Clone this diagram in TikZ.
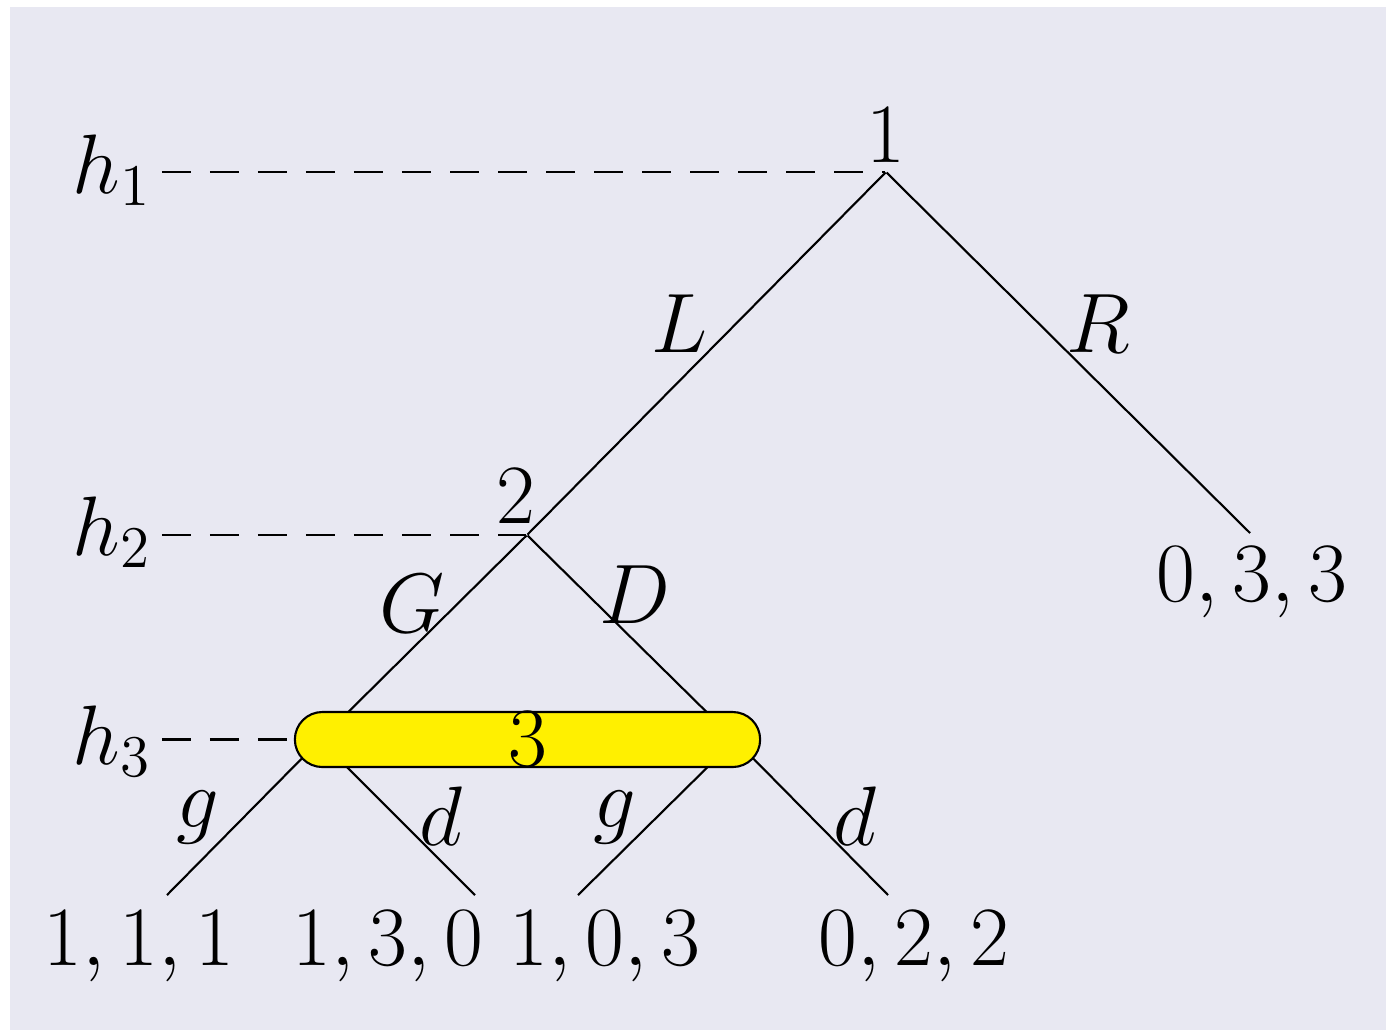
\RequirePackage{fix-cm}
\documentclass[tikz,border=0pt]{standalone}

\definecolor{bgcol}{RGB}{232,232,242}
\definecolor{infoyellow}{RGB}{255,240,0}

\begin{document}
\begin{tikzpicture}[
		x=0.01cm, y=-0.01cm,
		every node/.style = {font=\fontsize{24}{29}\selectfont},
		pt/.style   = {circle, inner sep=0, minimum size=0},
		lbl/.style  = {anchor=base, inner sep=0},
		hlbl/.style = {anchor=base, inner sep=0.1cm},
		info/.style = {rectangle, rounded corners=0.275cm, draw=black, fill=infoyellow, line width=0.6pt, minimum width=4.65cm, minimum height=0.55cm, inner sep=0},
		br/.style   = {line width=0.6pt},
		hl/.style   = {line width=0.6pt, dash pattern=on 0.29cm off 0.19cm}
		]
		
		%Background
		\fill[white] (0,0) rectangle (1386,1030);
		\fill[bgcol] (10,7) rectangle (1386,1030);
		
		%Nodes
		\node[pt]	(n1)	at (886,172)	{};
		\node[pt]	(n2)	at (527,535)	{};
		\node[pt]	(n3a)	at (320,740)	{};
		\node[pt]	(n3b)	at (735,740)	{};
		\coordinate	(tR)	at (1250,533);
		\coordinate	(t1)	at (167,895);
		\coordinate	(t2)	at (475,895);
		\coordinate	(t3)	at (578,895);
		\coordinate	(t4)	at (888,895);
		
		\node[lbl]	(p1)	at (886,162)	{$1$};
		\node[lbl]	(p2)	at (516,523)	{$2$};
		
		\node[hlbl]	(h1)	at (112,193)	{$h_1$};
		\node[hlbl]	(h2)	at (112,555)	{$h_2$};
		\node[hlbl]	(h3)	at (112,764)	{$h_3$};
		
		\node[lbl]	(oR)	at (1252,601)	{$0,3,3$};
		\node[lbl]	(o1)	at (139,965)	{$1,1,1$};
		\node[lbl]	(o2)	at (388,965)	{$1,3,0$};
		\node[lbl]	(o3)	at (605,965)	{$1,0,3$};
		\node[lbl]	(o4)	at (914,965)	{$0,2,2$};
		
		%Lines
		\draw[br] (n1) -- (n2);
		\draw[br] (n1) -- (tR);
		\draw[br] (n2) -- (n3a);
		\draw[br] (n2) -- (n3b);
		\draw[br] (n3a) -- (t1);
		\draw[br] (n3a) -- (t2);
		\draw[br] (n3b) -- (t3);
		\draw[br] (n3b) -- (t4);
		
		%Information set
		\node[info]	(i3)	at (527.5,739.5)	{$3$};
		
		\draw[hl] (h1.east |- n1) -- (n1);
		\draw[hl] (h2.east |- n2) -- (n2);
		\draw[hl] (h3.east |- i3.west) -- (i3.west);
		
		%Action labels
		\node[lbl]	(aL)	at (680,352)	{$L$};
		\node[lbl]	(aR)	at (1098,352)	{$R$};
		\node[lbl]	(aG)	at (412,632)	{$G$};
		\node[lbl]	(aD)	at (635,623)	{$D$};
		\node[lbl]	(ag1)	at (198,827)	{$g$};
		\node[lbl]	(ad1)	at (441,845)	{$d$};
		\node[lbl]	(ag2)	at (615,827)	{$g$};
		\node[lbl]	(ad2)	at (855,845)	{$d$};
		
	\end{tikzpicture}
\end{document}
